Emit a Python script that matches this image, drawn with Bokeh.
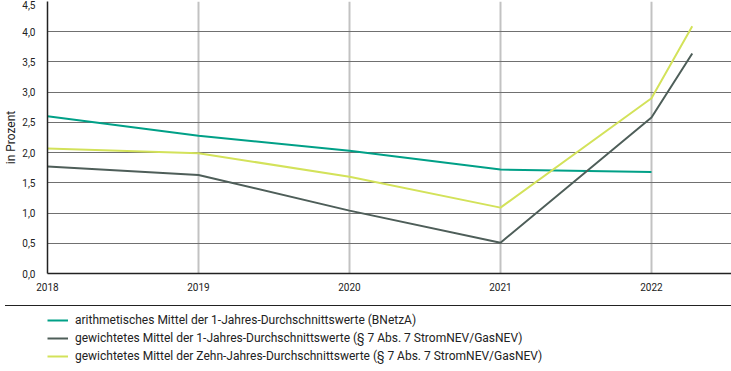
from bokeh.plotting import figure
from bokeh.models import Range1d, FixedTicker, Legend, LegendItem, Div
from bokeh.layouts import column
from bokeh.embed import file_html
from bokeh.resources import INLINE

# ---- data ----
years_teal = [2018, 2019, 2020, 2021, 2022]
teal_vals = [2.60, 2.28, 2.03, 1.72, 1.68]
years_other = [2018, 2019, 2020, 2021, 2022, 2022.27]
grey_vals = [1.77, 1.63, 1.04, 0.51, 2.58, 3.64]
yellow_vals = [2.07, 1.99, 1.60, 1.09, 2.90, 4.09]
x_ticks = [2018, 2019, 2020, 2021, 2022]
x_tick_labels = ["2018", "2019", "2020", "2021", "2022"]
y_ticks = [0.0, 0.5, 1.0, 1.5, 2.0, 2.5, 3.0, 3.5, 4.0, 4.5]
y_tick_labels = ["0,0", "0,5", "1,0", "1,5", "2,0", "2,5", "3,0", "3,5", "4,0", "4,5"]
series_labels = [
    "arithmetisches Mittel der 1-Jahres-Durchschnittswerte (BNetzA)",
    "gewichtetes Mittel der 1-Jahres-Durchschnittswerte (§ 7 Abs. 7 StromNEV/GasNEV)",
    "gewichtetes Mittel der Zehn-Jahres-Durchschnittswerte (§ 7 Abs. 7 StromNEV/GasNEV)",
]
series_colors = ["#00a087", "#4e5e59", "#d3e25a"]

FONT = "Roboto"
TXT = "#222222"

p = figure(width=731, height=300, x_range=Range1d(2018, 2022.53), y_range=Range1d(0, 4.5),
           output_backend="svg", toolbar_location=None,
           min_border_left=47, min_border_right=0, min_border_top=1, min_border_bottom=27)
p.outline_line_color = None
p.background_fill_color = "white"

p.xaxis.ticker = FixedTicker(ticks=x_ticks)
p.xaxis.major_label_overrides = {t: l for t, l in zip(x_ticks, x_tick_labels)}
p.yaxis.ticker = FixedTicker(ticks=y_ticks)
p.yaxis.major_label_overrides = {t: l for t, l in zip(y_ticks, y_tick_labels)}

for ax in (p.xaxis, p.yaxis):
    ax.axis_line_color = "#222222"
    ax.axis_line_width = 1.5
    ax.major_tick_line_color = None
    ax.minor_tick_line_color = None
    ax.major_tick_out = 0
    ax.major_tick_in = 0
    ax.major_label_text_font = FONT
    ax.major_label_text_font_size = "10px"
    ax.major_label_text_color = TXT

p.xaxis.major_label_standoff = 9

p.yaxis.major_label_standoff = 12
p.yaxis.major_label_text_baseline = "top"
p.yaxis.axis_label = "in Prozent"
p.yaxis.axis_label_text_font = FONT
p.yaxis.axis_label_text_font_size = "12px"
p.yaxis.axis_label_text_font_style = "normal"
p.yaxis.axis_label_text_color = TXT
p.yaxis.axis_label_standoff = 1

p.xgrid.ticker = FixedTicker(ticks=x_ticks)
p.xgrid.grid_line_color = "#c2c2c2"
p.xgrid.grid_line_width = 2
p.ygrid.ticker = FixedTicker(ticks=y_ticks)
p.ygrid.grid_line_color = "#707070"
p.ygrid.grid_line_width = 1

p.line(years_teal, teal_vals, line_color=series_colors[0], line_width=2)
p.line(years_other, grey_vals, line_color=series_colors[1], line_width=2)
p.line(years_other, yellow_vals, line_color=series_colors[2], line_width=2)

# full-width separator rule between chart and legend
rule = Div(text="", width=731, height=1, styles={"background-color": "#222222"})

# ---- legend panel (same series; its ranges keep the lines themselves out of view) ----
q = figure(width=731, height=61, x_range=Range1d(0, 1), y_range=Range1d(0, 1),
           output_backend="svg", toolbar_location=None,
           x_axis_location=None, y_axis_location=None,
           min_border_left=47, min_border_right=0, min_border_top=0, min_border_bottom=0)
q.outline_line_color = None
q.grid.visible = False
lr = [
    q.line(years_teal, teal_vals, line_color=series_colors[0], line_width=2),
    q.line(years_other, grey_vals, line_color=series_colors[1], line_width=2),
    q.line(years_other, yellow_vals, line_color=series_colors[2], line_width=2),
]
legend = Legend(items=[LegendItem(label=l, renderers=[r]) for l, r in zip(series_labels, lr)],
                location=(0, 7), orientation="vertical", padding=0, margin=0, spacing=0,
                glyph_height=18, glyph_width=21, label_height=18, label_standoff=7,
                label_text_font=FONT, label_text_font_size="12px", label_text_color=TXT,
                border_line_color=None, background_fill_alpha=0)
q.add_layout(legend)

layout = column(p, rule, q, spacing=0)
open("out.html", "w").write(file_html(layout, INLINE))
